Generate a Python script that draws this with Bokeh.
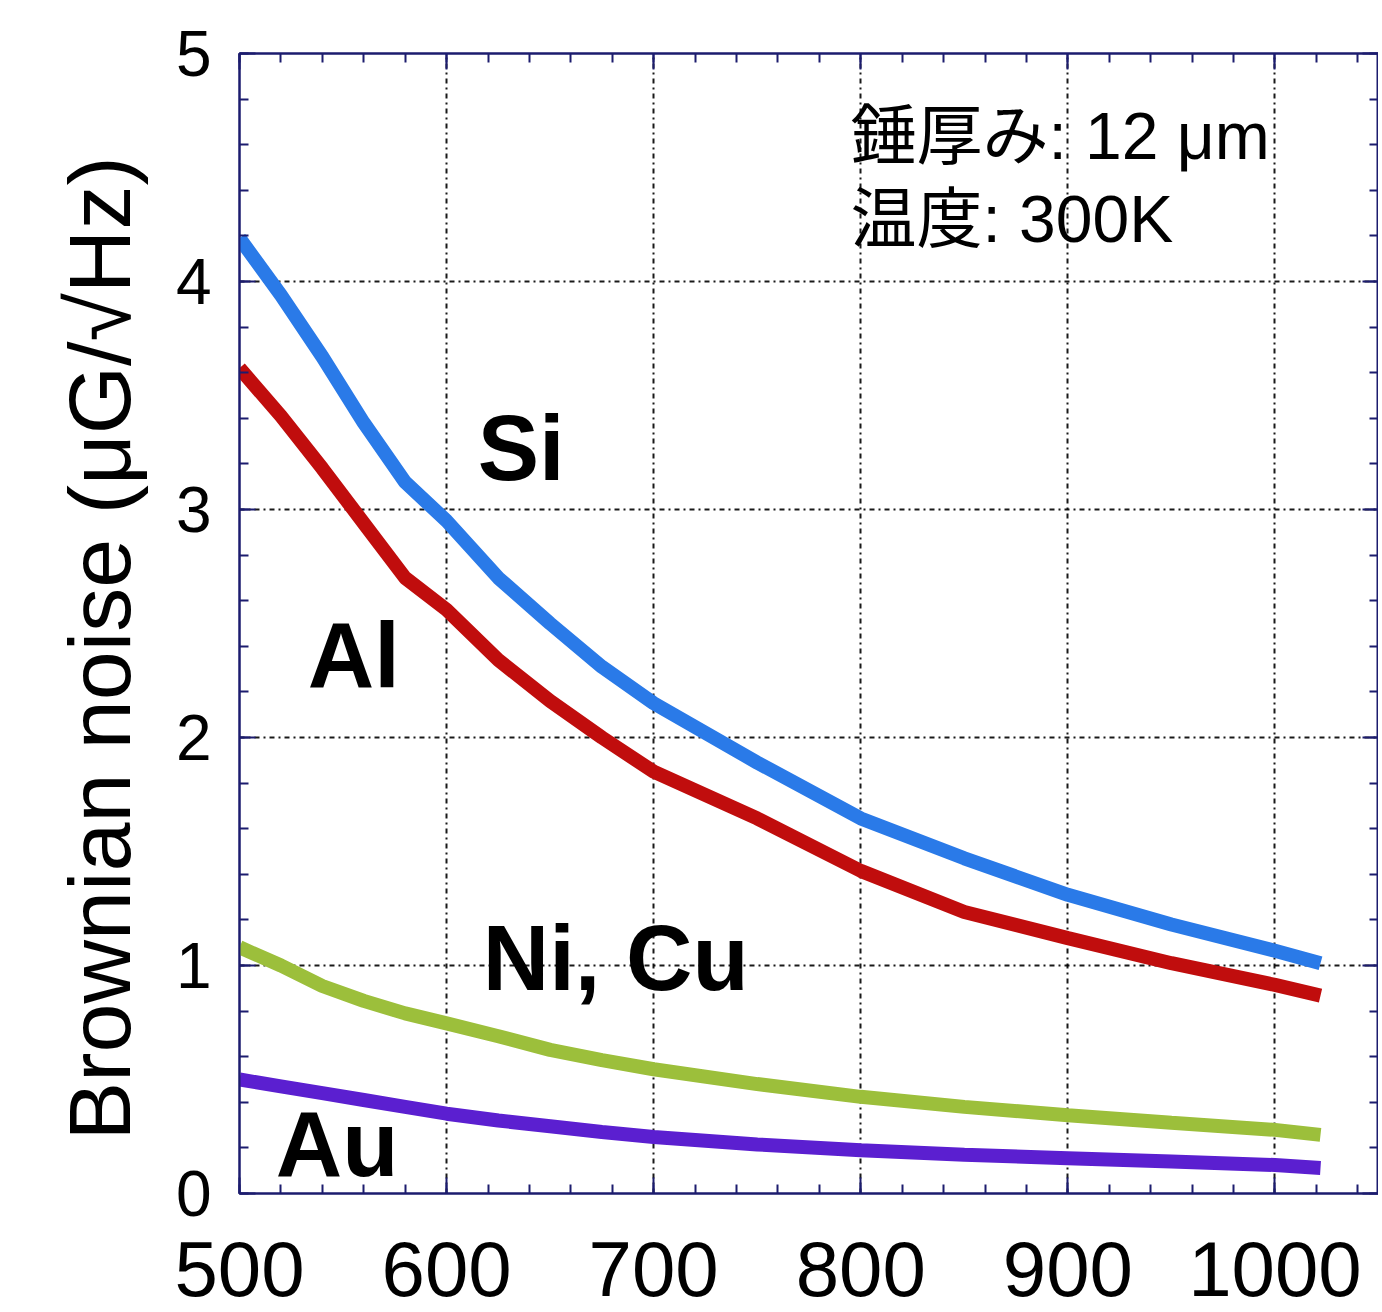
from bokeh.plotting import figure
from bokeh.models import (ColumnDataSource, LinearAxis, SingleIntervalTicker, FixedTicker,
                          Range1d, CustomJSTickFormatter, Title)
from bokeh.core.properties import value
from bokeh.embed import file_html
from bokeh.resources import INLINE

# ---- data ----
freq = [500, 520, 540, 560, 580, 600, 625, 650, 675, 700, 750, 800, 850, 900, 950, 1000, 1022]
si   = [4.19, 3.94, 3.67, 3.38, 3.12, 2.95, 2.70, 2.50, 2.31, 2.15, 1.89, 1.645, 1.47, 1.31, 1.18, 1.065, 1.01]
al   = [3.62, 3.41, 3.18, 2.94, 2.70, 2.56, 2.34, 2.16, 2.00, 1.85, 1.645, 1.415, 1.235, 1.12, 1.01, 0.915, 0.868]
nicu = [1.08, 1.00, 0.91, 0.845, 0.79, 0.746, 0.69, 0.63, 0.585, 0.545, 0.48, 0.424, 0.38, 0.343, 0.31, 0.279, 0.257]
au   = [0.50, 0.47, 0.44, 0.41, 0.38, 0.35, 0.32, 0.295, 0.27, 0.248, 0.215, 0.19, 0.17, 0.155, 0.14, 0.125, 0.112]
series_names = ["Si", "Al", "Ni, Cu", "Au"]
note_lines = ["錘厚み: 12 μm", "温度: 300K"]
y_label = "Brownian noise (μG/√Hz)"

# ---- styling / placement ----
colors = ["#2a7ae8", "#c00d0d", "#9cbf3b", "#5b1fd0"]
label_x = [615, 533, 617.5, 517.5]
label_y = [3.268, 2.364, 1.031, 0.219]
note_x = [795, 795]
note_y = [4.636, 4.274]
NAVY = "#1c1c6e"
FONT = "Liberation Sans"

p = figure(frame_width=1139, frame_height=1140,
           x_range=Range1d(500, 1050), y_range=Range1d(0, 5),
           output_backend="svg", toolbar_location=None,
           min_border_left=239, min_border_top=53, min_border_right=0, min_border_bottom=119,
           background_fill_color="white", border_fill_color="white")

xt = SingleIntervalTicker(interval=100, num_minor_ticks=5)
yt = SingleIntervalTicker(interval=1, num_minor_ticks=5)

p.xaxis.ticker = xt
p.yaxis.ticker = yt
p.xgrid.ticker = xt
p.ygrid.ticker = yt

for g in (p.xgrid, p.ygrid):
    g.grid_line_color = "black"
    g.grid_line_width = 2
    g.grid_line_dash = "5 4 2 4"
    g.grid_line_alpha = 0.9

p.outline_line_color = NAVY
p.outline_line_width = 2

def style_axis(ax):
    ax.axis_line_color = NAVY
    ax.axis_line_width = 2
    ax.major_tick_line_color = NAVY
    ax.minor_tick_line_color = NAVY
    ax.major_tick_line_width = 2
    ax.minor_tick_line_width = 2
    ax.major_tick_in = 16
    ax.major_tick_out = 0
    ax.minor_tick_in = 9
    ax.minor_tick_out = 0

style_axis(p.xaxis[0])
style_axis(p.yaxis[0])
p.xaxis.major_label_text_font = FONT
p.xaxis.major_label_text_font_size = "78px"
p.xaxis.major_label_text_color = "black"
p.xaxis.major_label_standoff = 48
p.yaxis.major_label_text_font = FONT
p.yaxis.major_label_text_font_size = "64px"
p.yaxis.major_label_text_color = "black"
p.yaxis.major_label_standoff = 28

blank = CustomJSTickFormatter(code="return '';")
top = LinearAxis(ticker=xt, formatter=blank, major_label_standoff=0)
right = LinearAxis(ticker=yt, formatter=blank, major_label_standoff=0)
style_axis(top)
style_axis(right)
p.add_layout(top, "above")
p.add_layout(right, "right")

# invisible spacer between the y tick labels and the y-axis title
spacer = LinearAxis(ticker=FixedTicker(ticks=[]), formatter=blank, major_label_standoff=0,
                    axis_line_color=None, major_tick_line_color=None, minor_tick_line_color=None,
                    major_tick_in=0, major_tick_out=50, minor_tick_in=0, minor_tick_out=0)
p.add_layout(spacer, "left")

ytitle = Title(text=y_label, align="left", offset=53, vertical_align="top",
               text_font=FONT, text_font_size="88px", text_font_style="normal",
               text_color="black", standoff=44)
p.add_layout(ytitle, "left")

for ys, c in zip([si, al, nicu, au], colors):
    p.line(freq, ys, line_color=c, line_width=14)

lab = ColumnDataSource(dict(x=label_x, y=label_y, t=series_names))
p.text(x="x", y="y", text="t", source=lab, text_font=value(FONT), text_font_style="bold",
       text_font_size="92px", text_color="black", text_baseline="alphabetic", text_align="left")

notes = ColumnDataSource(dict(x=note_x, y=note_y, t=note_lines))
p.text(x="x", y="y", text="t", source=notes, text_font=value("Liberation Sans, Noto Sans CJK JP"),
       text_font_size="66px", text_color="black", text_baseline="alphabetic", text_align="left")

open("out.html", "w").write(file_html(p, INLINE))
